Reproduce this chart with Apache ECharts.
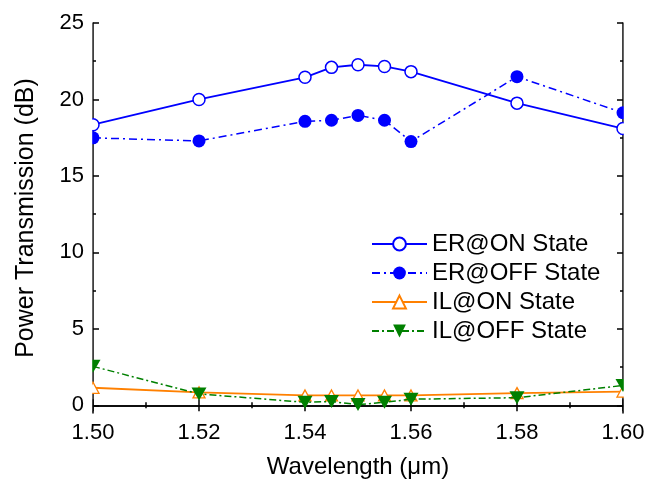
<!DOCTYPE html>
<html>
<head>
<meta charset="utf-8">
<script src="https://cdn.jsdelivr.net/npm/echarts@6/dist/echarts.min.js"></script>
<style>
html,body{margin:0;padding:0;background:#fff;}
#chart{width:648px;height:492px;}
</style>
</head>
<body>
<div id="chart"></div>
<script>
const wavelengths = [1.50, 1.52, 1.54, 1.545, 1.55, 1.555, 1.56, 1.58, 1.60];
const erOn  = [18.35, 20.0, 21.45, 22.1, 22.27, 22.16, 21.82, 19.76, 18.1];
const erOff = [17.49, 17.29, 18.57, 18.64, 18.96, 18.64, 17.25, 21.49, 19.13];
const ilOn  = [1.15, 0.85, 0.65, 0.65, 0.65, 0.65, 0.65, 0.8, 0.9];
const ilOff = [2.55, 0.75, 0.2, 0.25, 0.05, 0.2, 0.4, 0.5, 1.3];
const yMajorTicks = [0, 5, 10, 15, 20, 25];
const yMinorTicks = [2.5, 7.5, 12.5, 17.5, 22.5];
const seriesNames = ['ER@ON State', 'ER@OFF State', 'IL@ON State', 'IL@OFF State'];

const FONT = 'Liberation Sans';
const pair = (ys) => wavelengths.map((x, i) => [x, ys[i]]);

const chart = echarts.init(document.getElementById('chart'), null, {renderer: 'canvas'});

const frameLine = {show: true, lineStyle: {color: '#000', width: 1.5}};
const xCommon = {
  type: 'value', min: 1.5, max: 1.6, interval: 0.02,
  axisLine: frameLine,
  axisTick: {show: true, inside: true, length: 6, lineStyle: {color: '#000', width: 1.5}},
  minorTick: {show: true, splitNumber: 2, length: 3, lineStyle: {color: '#000', width: 1.5}},
  splitLine: {show: false}, minorSplitLine: {show: false}
};
const yBase = {type: 'value', min: -0.5, max: 25, splitLine: {show: false}};

const option = {
  animation: false,
  backgroundColor: '#fff',
  grid: {left: 93, right: 25, top: 23, bottom: 79, containLabel: false},
  legend: {
    orient: 'vertical', left: 366, top: 227,
    itemWidth: 55, itemHeight: 16, itemGap: 5,
    textStyle: {fontFamily: FONT, fontSize: 24, color: '#000', lineHeight: 24},
    data: seriesNames
  },
  xAxis: [
    Object.assign({}, xCommon, {
      position: 'bottom',
      axisLabel: {show: true, margin: 9, fontFamily: FONT, fontSize: 22, color: '#000',
        formatter: v => v.toFixed(2)},
      name: 'Wavelength (\u03bcm)', nameLocation: 'middle', nameGap: 42,
      nameTextStyle: {fontFamily: FONT, fontSize: 24, color: '#000'}
    }),
    Object.assign({}, xCommon, {position: 'top', axisLabel: {show: false}})
  ],
  yAxis: [
    Object.assign({}, yBase, {
      position: 'left', axisLine: frameLine,
      axisTick: {show: true, inside: true, length: 6, customValues: yMajorTicks, lineStyle: {color: '#000', width: 1.5}},
      axisLabel: {show: true, margin: 9, customValues: yMajorTicks, fontFamily: FONT, fontSize: 22, color: '#000'},
      name: 'Power Transmission (dB)', nameLocation: 'middle', nameGap: 54,
      nameTextStyle: {fontFamily: FONT, fontSize: 25, color: '#000'}
    }),
    Object.assign({}, yBase, {
      position: 'left', axisLine: {show: false},
      axisTick: {show: true, inside: true, length: 3, customValues: yMinorTicks, lineStyle: {color: '#000', width: 1.5}},
      axisLabel: {show: false}
    }),
    Object.assign({}, yBase, {
      position: 'right', axisLine: frameLine,
      axisTick: {show: true, inside: true, length: 6, customValues: yMajorTicks, lineStyle: {color: '#000', width: 1.5}},
      axisLabel: {show: false}
    }),
    Object.assign({}, yBase, {
      position: 'right', axisLine: {show: false},
      axisTick: {show: true, inside: true, length: 3, customValues: yMinorTicks, lineStyle: {color: '#000', width: 1.5}},
      axisLabel: {show: false}
    })
  ],
  series: [
    {
      name: seriesNames[0], type: 'line', data: pair(erOn),
      symbol: 'circle', symbolSize: 12,
      lineStyle: {color: '#0000ff', width: 1.8},
      itemStyle: {color: '#ffffff', borderColor: '#0000ff', borderWidth: 1.5},
      z: 3
    },
    {
      name: seriesNames[1], type: 'line', data: pair(erOff),
      symbol: 'circle', symbolSize: 13,
      lineStyle: {color: '#0000ff', width: 1.5, type: [8, 4, 2, 4]},
      itemStyle: {color: '#0000ff', borderColor: '#0000ff', borderWidth: 0},
      z: 3
    },
    {
      name: seriesNames[2], type: 'line', data: pair(ilOn),
      symbol: 'triangle', symbolSize: [12, 11],
      lineStyle: {color: '#ff8000', width: 1.8},
      itemStyle: {color: '#ffffff', borderColor: '#ff8000', borderWidth: 1.3},
      z: 3
    },
    {
      name: seriesNames[3], type: 'line', data: pair(ilOff),
      symbol: 'triangle', symbolRotate: 180, symbolSize: [15, 13],
      lineStyle: {color: '#008000', width: 1.5, type: [7, 3, 2, 3]},
      itemStyle: {color: '#008000', borderWidth: 0},
      z: 4
    }
  ]
};
chart.setOption(option);

// white masks just outside the frame so edge markers appear clipped like the original
const xl = chart.convertToPixel({xAxisIndex: 0}, 1.5);
const xr = chart.convertToPixel({xAxisIndex: 0}, 1.6);
const yt = chart.convertToPixel({yAxisIndex: 0}, 25);
const yb = chart.convertToPixel({yAxisIndex: 0}, -0.5);
chart.setOption({
  graphic: [
    {type: 'rect', shape: {x: xl - 8.5, y: yt - 1, width: 7.7, height: yb - yt - 1}, style: {fill: '#fff'}, z: 10, silent: true},
    {type: 'rect', shape: {x: xr + 0.8, y: yt - 1, width: 10, height: yb - yt - 1}, style: {fill: '#fff'}, z: 10, silent: true}
  ]
});
</script>
</body>
</html>
